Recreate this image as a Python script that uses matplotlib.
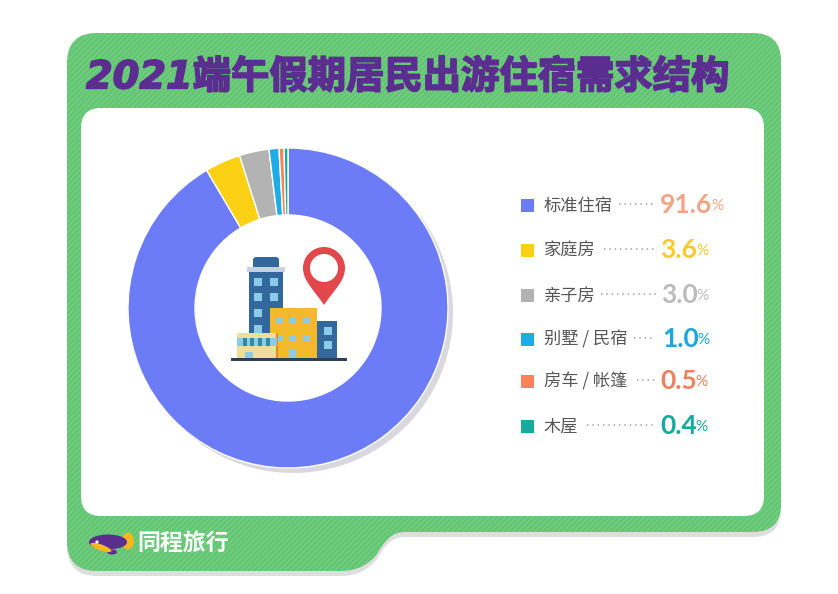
#!/usr/bin/env python3
"""2021 Dragon Boat holiday lodging demand donut, drawn in image pixel coords."""

import matplotlib
matplotlib.use('Agg')
import matplotlib.pyplot as plt
import matplotlib.patheffects as pe
from matplotlib.patches import Circle, Ellipse, FancyBboxPatch, PathPatch, Rectangle
from matplotlib.path import Path

CJK = ['Noto Sans CJK SC', 'DejaVu Sans']
NUM = ['Lato', 'DejaVu Sans']
plt.rcParams['font.family'] = CJK
plt.rcParams['hatch.linewidth'] = 0.7

W, H = 838, 594

TITLE = '2021端午假期居民出游住宿需求结构'
BRAND = '同程旅行'

labels = ['标准住宿', '家庭房', '亲子房', '别墅 / 民宿', '房车 / 帐篷', '木屋']
values = [91.6, 3.6, 3.0, 1.0, 0.5, 0.4]
colors = ['#6c7cf6', '#fcd014', '#b3b3b3', '#1cace8', '#fd8257', '#17ab9e']
value_colors = ['#f2a585', '#f8ca2c', '#bbbbbb', '#1aa7dc', '#ef805c', '#17a89c']

row_y = [205, 250, 295, 339, 381, 426]
dot_start = [619, 604, 601, 634, 637, 587]
dot_end = [656, 656, 656, 652, 655, 656]
num_x = [660, 660, 661, 662, 660, 660]

GREEN = '#62c672'
STRIPE = '#7dd08a'
SHADOW = '#dedede'
PURPLE = '#5b2d91'
BLUE = '#33689c'
WINDOW = '#8ccbe8'
YELLOW = '#f4b82c'
DARK = '#2f3f56'


def panel_path(dx=0, dy=0):
    # green panel with the notch cut out of the lower right
    L, T, R = 67 + dx, 33 + dy, 781 + dx
    B1, B2 = 532 + dy, 571 + dy
    verts = [
        (L + 30, T), (R - 28, T),
        (R, T), (R, T + 28),
        (R, B1 - 28),
        (R, B1), (R - 28, B1),
        (405 + dx, B1),
        (392 + dx, B1), (385 + dx, B1 + 8), (377 + dx, B1 + 22),
        (369 + dx, B1 + 32), (358 + dx, B2), (340 + dx, B2),
        (L + 30, B2),
        (L, B2), (L, B2 - 30),
        (L, T + 30),
        (L, T), (L + 30, T),
        (L + 30, T),
    ]
    codes = [
        Path.MOVETO, Path.LINETO,
        Path.CURVE3, Path.CURVE3,
        Path.LINETO,
        Path.CURVE3, Path.CURVE3,
        Path.LINETO,
        Path.CURVE4, Path.CURVE4, Path.CURVE4,
        Path.CURVE4, Path.CURVE4, Path.CURVE4,
        Path.LINETO,
        Path.CURVE3, Path.CURVE3,
        Path.LINETO,
        Path.CURVE3, Path.CURVE3,
        Path.CLOSEPOLY,
    ]
    return Path(verts, codes)


def draw_panel(ax):
    ax.add_patch(PathPatch(panel_path(0, 5), fc=SHADOW, ec='none'))
    ax.add_patch(PathPatch(panel_path(), fc=GREEN, ec='none'))
    ax.add_patch(PathPatch(panel_path(), fc='none', ec=STRIPE, hatch='//////', lw=0))
    ax.add_patch(FancyBboxPatch((101, 128), 643, 368, boxstyle='round,pad=20,rounding_size=20',
                                fc='white', ec='none'))


def box(ax, x0, y0, x1, y1, color, z=5):
    ax.add_patch(Rectangle((x0, y0), x1 - x0, y1 - y0, fc=color, ec='none', zorder=z))


def draw_city(ax):
    # tall tower
    ax.add_patch(FancyBboxPatch((255, 259), 22, 10, boxstyle='round,pad=2,rounding_size=3',
                                fc=BLUE, ec='none', zorder=4))
    box(ax, 249, 271, 283, 336, BLUE, 4)
    box(ax, 247, 267, 285, 272, '#c5d3e0')
    for wy in (278, 293, 309, 325):
        for wx in (254, 270):
            box(ax, wx, wy, wx + 8, wy + 8, WINDOW)

    # yellow block
    box(ax, 270, 308, 317, 358, YELLOW, 6)
    for wy in (317, 335):
        for wx in (276, 289, 303):
            box(ax, wx, wy, wx + 7, wy + 7, WINDOW, 7)
    box(ax, 289, 350, 296, 358, WINDOW, 7)

    # right block
    box(ax, 317, 321, 337, 358, BLUE, 6)
    for wy in (327, 341):
        box(ax, 324, wy, 332, wy + 8, WINDOW, 7)

    # low building
    box(ax, 237, 333, 277, 358, '#f0dc9c', 8)
    box(ax, 276, 333, 277.5, 358, '#e58a24', 8)
    box(ax, 237, 338, 277, 346, WINDOW, 9)
    for sx in (243, 250, 258, 266):
        box(ax, sx, 338, sx + 3.5, 346, '#2f8c9e', 10)
    box(ax, 245, 352, 253, 358, WINDOW, 9)

    box(ax, 231, 357.5, 347, 361, DARK, 11)

    # map pin
    verts = [(324, 305), (314, 290), (303, 281), (303, 268),
             (303, 256), (313, 247), (324, 247),
             (335, 247), (345, 256), (345, 268),
             (345, 281), (334, 290), (324, 305), (324, 305)]
    codes = [Path.MOVETO] + [Path.CURVE4] * 12 + [Path.CLOSEPOLY]
    ax.add_patch(PathPatch(Path(verts, codes), fc='#e2474b', ec='none', zorder=5))
    ax.add_patch(Circle((324, 268), 14, fc='white', ec='none', zorder=6))


def draw_logo(ax):
    ax.add_patch(Ellipse((128, 541), 12, 17, fc='#f5b81c', ec='none', zorder=5))
    ax.add_patch(Ellipse((108, 542), 38, 15, fc=PURPLE, ec='none', zorder=6))
    ax.add_patch(Ellipse((112, 552), 10, 5, fc=PURPLE, ec='none', zorder=6))
    ax.add_patch(Ellipse((101, 547.5), 22, 6, angle=20, fc='#f5b81c', ec='none', zorder=7))
    ax.add_patch(Circle((97, 542), 1.6, fc='white', ec='none', zorder=8))
    ax.text(137, 543, BRAND, color='white', fontsize=16.5, fontweight='bold',
            ha='left', va='center', zorder=7)


def draw_donut(ax):
    ax.add_patch(Circle((293, 313), 160, fc='#d8d8de', ec='none', zorder=2))
    ax.pie(values, colors=colors, startangle=-90, counterclock=True, center=(288, 308),
           radius=160, frame=True,
           wedgeprops=dict(width=67, edgecolor='white', linewidth=1.0, zorder=3))
    ax.add_patch(Circle((288, 308), 93, fc='white', ec='none', zorder=3.5))


def draw_legend(ax, fig):
    renderer = fig.canvas.get_renderer()
    for i, label in enumerate(labels):
        y = row_y[i]
        ax.add_patch(Rectangle((521, y - 6.5), 13, 13, fc=colors[i], ec='none'))
        ax.text(544, y + 0.5, label, color='#555555', fontsize=12.4, ha='left', va='center')
        ax.plot([dot_start[i], dot_end[i]], [y - 1, y - 1], color='#9a9a9a', lw=1.1,
                ls=(0, (0.9, 2.6)))
        num = ax.text(num_x[i], y, f'{values[i]:.1f}', color=value_colors[i], fontsize=19,
                      fontweight='bold', family=NUM, ha='left', va='center')
        right = num.get_window_extent(renderer).x1 * W / fig.bbox.width
        ax.text(right - 1, y + 1, '%', color=value_colors[i], fontsize=11, family=NUM,
                ha='left', va='center')


def main():
    fig = plt.figure(figsize=(W / 100, H / 100), dpi=100)
    ax = fig.add_axes([0, 0, 1, 1])

    draw_panel(ax)
    draw_donut(ax)
    draw_city(ax)
    draw_logo(ax)
    ax.set_xlim(0, W)
    ax.set_ylim(H, 0)
    draw_legend(ax, fig)

    # digits come from DejaVu (wide, slanted), the rest falls through to the CJK font
    ax.text(86, 78, TITLE, color=PURPLE, fontsize=27.6, fontweight='bold', style='oblique',
            family=['DejaVu Sans', 'Noto Sans CJK SC'], ha='left', va='center',
            path_effects=[pe.withStroke(linewidth=1.2, foreground=PURPLE)], zorder=5)

    ax.set_xlim(0, W)
    ax.set_ylim(H, 0)
    ax.set_aspect('equal')
    ax.axis('off')
    fig.savefig('out.png', dpi=100, facecolor='white')


if __name__ == '__main__':
    main()
